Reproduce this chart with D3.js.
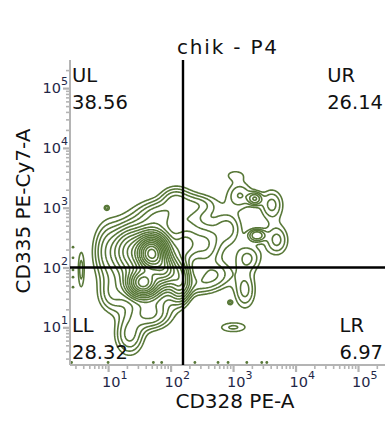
<!DOCTYPE html>
<html>
<head>
<meta charset="utf-8">
<script src="https://cdn.jsdelivr.net/npm/d3@7"></script>
<style>
  html, body { margin: 0; padding: 0; background: #fff; }
  svg { display: block; font-family: "DejaVu Sans", sans-serif; }
</style>
</head>
<body>
<svg id="chart" width="385" height="424"></svg>
<script>
// Plot title and axis titles
const plotTitle = "chik - P4";
const xTitle = "CD328 PE-A";
const yTitle = "CD335 PE-Cy7-A";

// Quadrant gate (fluorescence units) and quadrant percentages
const gateX = 158;
const gateY = 100;
const quadNames = ["UL", "UR", "LL", "LR"];
const quadValues = ["38.56", "26.14", "28.32", "6.97"];

// Decade tick exponents
const decadeExps = [1, 2, 3, 4, 5];

// Event populations: centre intensity on each channel, spread (decades), relative weight
const popCD328   = [50, 36, 81, 44, 22, 22, 47, 9.8, 11.5, 117, 68, 141, 170, 3.7, 355, 513, 295,
                    1288, 4169, 5012, 1738, 832, 2239, 2399, 1072, 1549, 1000, 891, 9.5, 427, 295, 200];
const popCD335   = [174, 55, 91, 123, 195, 7.5, 16, 195, 35, 1349, 759, 62, 240, 91, 240, 76, 1122,
                    1622, 1122, 288, 145, 457, 1413, 347, 3548, 42, 10, 26, 1000, 288, 51, 600];
const popSpreadX = [0.14, 0.14, 0.12, 0.33, 0.15, 0.15, 0.2, 0.15, 0.15, 0.15, 0.2, 0.1, 0.12, 0.04, 0.15, 0.2, 0.2,
                    0.15, 0.13, 0.13, 0.15, 0.15, 0.07, 0.09, 0.15, 0.12, 0.18, 0.03, 0.03, 0.3, 0.2, 0.15];
const popSpreadY = [0.17, 0.13, 0.15, 0.42, 0.2, 0.22, 0.15, 0.3, 0.2, 0.15, 0.15, 0.2, 0.15, 0.25, 0.2, 0.15, 0.12,
                    0.16, 0.18, 0.18, 0.16, 0.18, 0.07, 0.07, 0.08, 0.22, 0.07, 0.03, 0.03, 0.35, 0.12, 0.3];
const popWeight  = [1.0, 0.55, 0.35, 0.2, 0.15, 0.06, 0.06, 0.05, 0.04, 0.05, 0.05, 0.18, 0.06, 0.032, 0.05, 0.045, 0.035,
                    0.04, 0.045, 0.045, 0.04, 0.035, 0.065, 0.07, 0.02, 0.045, 0.03, 0.03, 0.03, 0.025, 0.03, 0.03];

// Contour levels (relative density)
const contourLevels = [0.018, 0.028, 0.04, 0.055, 0.075, 0.1, 0.13, 0.17, 0.22, 0.28, 0.35, 0.43, 0.52, 0.62, 0.73, 0.85, 0.98, 1.12];

// Off-scale events piled on the axes
const floorEventsX = [2.6, 10, 53, 72, 245, 575, 832, 1660, 2880, 3470];
const wallEventsY = [219, 145, 91, 69, 47];

const svg = d3.select("#chart");
const green = "#587838";
const tickColor = "#b4b4b4";
const labelColor = "#1f2747";

const x = d3.scaleLog().domain([Math.pow(10, 0.39), Math.pow(10, 5.4)]).range([70, 383]);
const y = d3.scaleLog().domain([Math.pow(10, 0.37), Math.pow(10, 5.47)]).range([365, 60]);

// ---- density grid in log space ----
const step = 0.015;
const lx0 = 0.39, lx1 = 5.4, ly0 = 0.37, ly1 = 5.47;
const nx = Math.ceil((lx1 - lx0) / step) + 1;
const ny = Math.ceil((ly1 - ly0) / step) + 1;
const grid = new Float64Array(nx * ny);
const pops = popCD328.map((v, i) => ({
  cx: Math.log10(v), cy: Math.log10(popCD335[i]),
  sx: popSpreadX[i], sy: popSpreadY[i], w: popWeight[i]
}));
for (let j = 0; j < ny; j++) {
  const ly = ly0 + j * step;
  for (let i = 0; i < nx; i++) {
    const lx = lx0 + i * step;
    let d = 0;
    for (const p of pops) {
      const dx = (lx - p.cx) / p.sx, dy = (ly - p.cy) / p.sy;
      d += p.w * Math.exp(-0.5 * (dx * dx + dy * dy));
    }
    grid[j * nx + i] = d;
  }
}

const contours = d3.contours().size([nx, ny]).thresholds(contourLevels)(grid);
const proj = d3.geoTransform({
  point: function (gx, gy) {
    this.stream.point(x(Math.pow(10, lx0 + (gx - 0.5) * step)),
                      y(Math.pow(10, ly0 + (gy - 0.5) * step)));
  }
});
const path = d3.geoPath(proj);

const plot = svg.append("g");
plot.append("defs").append("clipPath").attr("id", "plotClip")
  .append("rect").attr("x", 70).attr("y", 60).attr("width", 315).attr("height", 305);

plot.append("g").attr("clip-path", "url(#plotClip)")
  .selectAll("path").data(contours).join("path")
  .attr("d", path)
  .attr("fill", "none")
  .attr("stroke", green)
  .attr("stroke-width", 1.6)
  .attr("stroke-linejoin", "round");

// off-scale events
plot.append("g").selectAll("circle").data(floorEventsX).join("circle")
  .attr("cx", d => x(d)).attr("cy", 362.5).attr("r", 1.4).attr("fill", green);
plot.append("g").selectAll("circle").data(wallEventsY).join("circle")
  .attr("cx", 73).attr("cy", d => y(d)).attr("r", 1.4).attr("fill", green);

// ---- axes ----
function logTicks(scale) {
  const [a, b] = scale.domain();
  const out = [];
  for (let e = 0; e <= 5; e++) {
    for (let m = 1; m <= 9; m++) {
      const v = m * Math.pow(10, e);
      if (v >= a && v <= b) out.push(v);
    }
  }
  return out;
}
const isMajor = v => Math.abs(Math.log10(v) - Math.round(Math.log10(v))) < 1e-9;

const xAxis = svg.append("g").attr("transform", "translate(0,365)")
  .call(d3.axisBottom(x).tickValues(logTicks(x)).tickFormat("").tickSizeOuter(0).tickSize(4));
const yAxis = svg.append("g").attr("transform", "translate(70,0)")
  .call(d3.axisLeft(y).tickValues(logTicks(y)).tickFormat("").tickSizeOuter(0).tickSize(4));

[xAxis, yAxis].forEach(g => {
  g.select(".domain").attr("stroke", tickColor).attr("stroke-width", 2);
  g.selectAll(".tick line").attr("stroke", tickColor).attr("stroke-width", 1.6);
});
xAxis.select(".domain").attr("d", "M70,0H385");
yAxis.select(".domain").attr("d", "M0,60V365");
xAxis.selectAll(".tick").filter(isMajor).select("line").attr("y2", 7).attr("stroke-width", 2.2);
yAxis.selectAll(".tick").filter(isMajor).select("line").attr("x2", -7).attr("stroke-width", 2.2);

// decade labels
const xl = svg.append("g").selectAll("text").data(decadeExps).join("text")
  .attr("x", d => x(Math.pow(10, d)) - 6).attr("y", 387)
  .attr("fill", labelColor).attr("font-size", 14.5);
xl.append("tspan").text("10");
xl.append("tspan").attr("dy", -8).attr("font-size", 11).text(d => d);

const yl = svg.append("g").selectAll("text").data(decadeExps).join("text")
  .attr("x", 68).attr("y", d => y(Math.pow(10, d)) + 5)
  .attr("text-anchor", "end")
  .attr("fill", labelColor).attr("font-size", 14.5);
yl.append("tspan").text("10");
yl.append("tspan").attr("dy", -8).attr("font-size", 11).text(d => d);

// ---- quadrant gate ----
svg.append("line").attr("x1", x(gateX)).attr("x2", x(gateX)).attr("y1", 60).attr("y2", 365)
  .attr("stroke", "#000").attr("stroke-width", 2.4);
svg.append("line").attr("x1", 70).attr("x2", 385).attr("y1", y(gateY)).attr("y2", y(gateY))
  .attr("stroke", "#000").attr("stroke-width", 2.4);

// quadrant labels
const qFont = 19.5;
const quadPos = [
  { side: "left", top: 82 }, { side: "right", top: 82 },
  { side: "left", top: 332 }, { side: "right", top: 332 }
];
quadPos.forEach((q, i) => {
  const g = svg.append("g").attr("font-size", qFont).attr("fill", "#111");
  const val = g.append("text").attr("y", q.top + 26.5).text(quadValues[i]);
  const name = g.append("text").attr("y", q.top).text(quadNames[i]);
  if (q.side === "left") {
    val.attr("x", 72);
    name.attr("x", 72);
  } else {
    const w = val.node().getComputedTextLength();
    val.attr("x", 383 - w);
    name.attr("x", 383 - w);
  }
});

// titles
svg.append("text").attr("x", 177).attr("y", 54)
  .attr("textLength", 100).attr("lengthAdjust", "spacing")
  .attr("font-size", 20).attr("fill", "#111").text(plotTitle);
svg.append("text").attr("x", 235).attr("y", 408).attr("text-anchor", "middle")
  .attr("font-size", 20).attr("fill", "#111").text(xTitle);
svg.append("text").attr("transform", "translate(30,211) rotate(-90)")
  .attr("text-anchor", "middle").attr("font-size", 20).attr("fill", "#111").text(yTitle);
</script>
</body>
</html>
